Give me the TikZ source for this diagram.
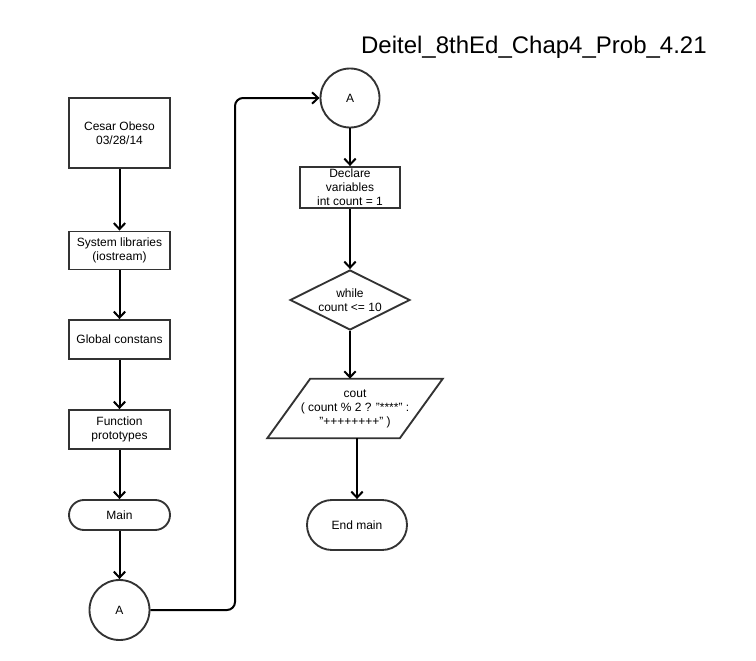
\documentclass[tikz,border=0pt]{standalone}
\usepackage{fontspec}
\setmainfont{Liberation Sans}
\usetikzlibrary{arrows.meta,shapes.geometric}
\definecolor{edge}{HTML}{333333}
\begin{document}
\begin{tikzpicture}[x=0.75pt,y=-0.75pt,
  every node/.style={font=\fontsize{9}{10.5}\selectfont, align=center, inner sep=0pt},
  shp/.style={draw=edge, line width=1.4pt, fill=white},
  proc/.style={shp, rectangle, minimum width=75.75pt, minimum height=28.5pt},
  term/.style={shp, rectangle, rounded corners=11.25pt, minimum width=75.75pt, minimum height=22.5pt},
  conn/.style={shp, circle, minimum size=45pt},
  flow/.style={draw=black, line width=1.5pt, -{Straight Barb[length=4.5pt,width=8.5pt,line width=1.5pt]}}
]
\useasboundingbox (0,0) rectangle (756,660);

\node[anchor=east, font=\fontsize{18}{20}\selectfont] (title) at (707,47) {Deitel\_8thEd\_Chap4\_Prob\_4.21};

\node[proc, minimum height=52.5pt] (b1) at (119.5,133) {Cesar Obeso\\03/28/14};
\node[proc] (b2) at (119.5,250.5) {System libraries\\(iostream)};
\node[proc, minimum height=29.25pt] (b3) at (119.5,339.5) {Global constans};
\node[proc, minimum height=29.25pt] (b4) at (119.5,429.5) {Function\\prototypes};
\node[term] (main) at (119.5,515) {Main};
\node[conn] (a1) at (119.5,610) {A};

\node[conn, minimum size=44.25pt] (a2) at (350,98) {A};
\node[proc, minimum width=75pt, minimum height=30.75pt] (decl) at (350,187.5) {Declare\\variables\\int count = 1};
\node[shp, diamond, aspect=2, minimum width=90pt, minimum height=45pt] (dia) at (350,300) {while\\count <= 10};
\node[minimum width=99pt, minimum height=44.25pt] (para) at (355,408.5) {cout\\( count \% 2 ? "****" :\\"++++++++" )};
\draw[draw=edge, line width=1.4pt] ([xshift=16.1pt]para.north west) -- ([xshift=16.1pt]para.north east)
  -- ([xshift=-16.1pt]para.south east) -- ([xshift=-16.1pt]para.south west) -- cycle;
\node[shp, rectangle, rounded corners=18.75pt, minimum width=75pt, minimum height=37.5pt] (endm) at (357,525) {End main};

\draw[flow] (b1) -- (b2);
\draw[flow] (b2) -- (b3);
\draw[flow] (b3) -- (b4);
\draw[flow] (b4) -- (main);
\draw[flow] (main) -- (a1);
\coordinate (turn) at (235,98);
\draw[flow, rounded corners=6pt] (a1.east) -| (turn) -- (a2.west);
\draw[flow] (a2) -- (decl);
\draw[flow] (decl) -- (dia);
\draw[flow] (dia.south) -- (dia.south |- para.north);
\draw[flow] (endm.north |- para.south) -- (endm.north);
\end{tikzpicture}
\end{document}
